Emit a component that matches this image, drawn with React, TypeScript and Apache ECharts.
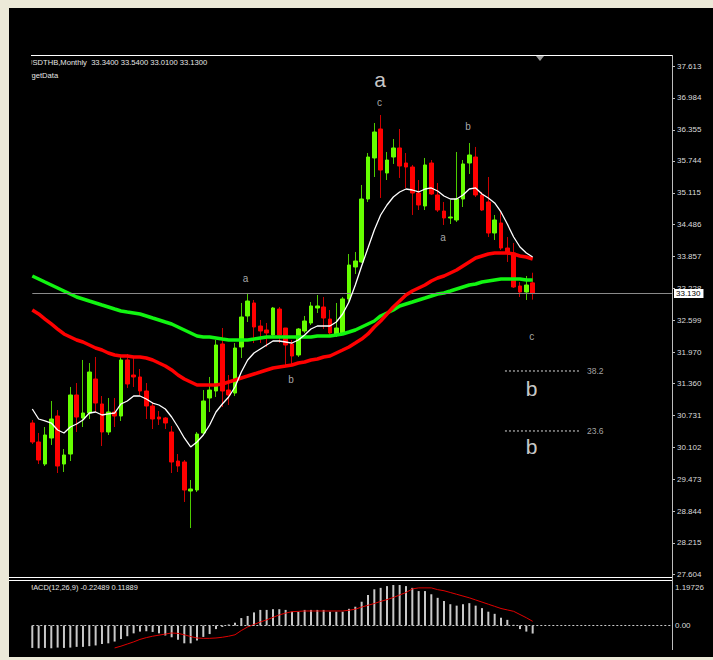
import React, { useEffect, useRef } from 'react';
import * as echarts from 'echarts';

// ---- data (USDTHB monthly) ----
const symbolName = 'USDTHB,Monthly';
const indicatorName = 'TargetData';
const slotCount = 102; // 80 bars + right-side chart shift
const slots = Array.from({ length: slotCount }, (_, i) => String(i + 1));

const opens = [
  30.579, 30.205, 29.771, 30.284, 30.717, 29.771, 29.968, 31.131, 30.678, 30.776,
  31.446, 30.954, 30.402, 30.796, 30.717, 31.821, 31.525, 31.486, 31.210, 30.914,
  30.697, 30.678, 30.402, 29.830, 29.811, 29.239, 29.259, 30.382, 31.072, 31.210,
  32.136, 31.229, 31.170, 32.077, 32.688, 32.944, 32.490, 32.412, 32.313, 32.825,
  32.451, 32.136, 31.919, 32.392, 32.550, 32.845, 32.865, 32.628, 32.313, 32.353,
  33.023, 33.653, 33.752, 34.993, 35.801, 36.372, 35.505, 35.820, 35.998, 35.702,
  35.623, 35.111, 34.855, 35.702, 35.072, 34.756, 34.619, 34.579, 34.993, 35.702,
  35.820, 35.072, 34.934, 34.323, 34.520, 34.027, 33.929, 33.279, 33.160, 33.34,
];
const closes = [
  30.205, 29.850, 30.343, 30.658, 29.732, 29.949, 31.131, 30.697, 30.776, 31.584,
  30.973, 30.402, 30.796, 30.717, 31.821, 31.348, 31.486, 31.210, 30.914, 30.658,
  30.658, 30.579, 29.811, 29.732, 29.259, 29.279, 30.362, 31.013, 31.229, 32.116,
  31.210, 31.131, 32.057, 32.668, 32.983, 32.471, 32.392, 32.353, 32.845, 32.313,
  32.116, 31.899, 32.431, 32.589, 32.885, 32.885, 32.648, 32.353, 32.451, 33.023,
  33.692, 33.771, 34.993, 35.820, 36.313, 35.564, 35.761, 35.998, 35.643, 35.623,
  35.111, 34.875, 35.663, 35.091, 34.776, 34.619, 34.638, 34.993, 35.683, 35.860,
  35.072, 34.776, 34.323, 34.579, 34.027, 33.929, 33.259, 33.160, 33.298, 33.13,
];
const lows = [
  30.165, 29.771, 29.732, 30.146, 29.594, 29.614, 29.830, 30.402, 30.500, 30.658,
  30.796, 30.126, 30.343, 30.500, 30.619, 31.269, 31.289, 31.131, 30.658, 30.461,
  30.540, 30.461, 29.594, 29.614, 29.023, 28.510, 29.220, 30.343, 30.796, 31.092,
  30.894, 30.934, 31.111, 31.860, 32.569, 32.155, 32.155, 32.077, 32.274, 32.155,
  31.722, 31.722, 31.880, 32.353, 32.510, 32.747, 32.431, 32.313, 32.274, 32.313,
  32.944, 33.515, 33.732, 34.934, 35.426, 35.013, 35.367, 35.683, 35.407, 35.210,
  34.678, 34.776, 34.776, 35.072, 34.737, 34.481, 34.500, 34.540, 34.835, 35.486,
  35.032, 34.756, 34.244, 34.185, 33.988, 33.752, 33.239, 33.062, 33.003, 33.01,
];
const highs = [
  30.638, 30.382, 30.500, 31.013, 30.835, 30.067, 31.289, 31.367, 31.821, 31.761,
  31.880, 31.111, 31.072, 31.072, 31.880, 31.939, 31.880, 31.643, 31.367, 30.993,
  30.816, 30.697, 30.520, 29.968, 29.850, 29.456, 30.402, 31.229, 31.486, 32.215,
  32.451, 31.525, 32.155, 32.944, 33.141, 33.003, 32.609, 32.550, 32.865, 32.865,
  32.451, 32.215, 32.451, 32.688, 32.963, 33.101, 33.062, 32.806, 32.944, 33.062,
  33.909, 33.949, 35.269, 35.899, 36.490, 36.648, 35.919, 36.175, 36.372, 35.899,
  35.663, 35.367, 35.801, 35.761, 35.308, 34.934, 34.973, 35.919, 35.761, 36.096,
  36.018, 35.131, 35.426, 34.678, 34.737, 34.244, 34.126, 33.357, 33.476, 33.54,
];
const maFast = [
  30.855, 30.658, 30.619, 30.579, 30.441, 30.382, 30.500, 30.560, 30.638, 30.776,
  30.796, 30.737, 30.757, 30.776, 30.954, 31.013, 31.111, 31.111, 31.052, 30.973,
  30.934, 30.855, 30.697, 30.500, 30.284, 30.107, 30.205, 30.343, 30.540, 30.796,
  30.954, 31.092, 31.289, 31.584, 31.821, 31.958, 32.037, 32.116, 32.195, 32.195,
  32.175, 32.155, 32.215, 32.313, 32.431, 32.490, 32.490, 32.490, 32.569, 32.727,
  32.963, 33.298, 33.673, 34.027, 34.382, 34.678, 34.875, 35.032, 35.131, 35.190,
  35.170, 35.131, 35.190, 35.210, 35.150, 35.052, 34.993, 34.993, 35.072, 35.190,
  35.210, 35.091, 35.013, 34.914, 34.737, 34.500, 34.244, 34.047, 33.929, 33.850,
];
const maMid = [
  32.806, 32.727, 32.628, 32.530, 32.431, 32.333, 32.274, 32.215, 32.175, 32.116,
  32.057, 32.017, 31.958, 31.919, 31.899, 31.899, 31.880, 31.880, 31.860, 31.821,
  31.761, 31.702, 31.624, 31.525, 31.446, 31.387, 31.328, 31.328, 31.328, 31.328,
  31.348, 31.387, 31.426, 31.466, 31.505, 31.545, 31.584, 31.624, 31.663, 31.683,
  31.702, 31.722, 31.761, 31.781, 31.821, 31.840, 31.880, 31.899, 31.958, 32.017,
  32.077, 32.155, 32.234, 32.333, 32.471, 32.589, 32.727, 32.865, 32.983, 33.101,
  33.180, 33.239, 33.298, 33.377, 33.436, 33.476, 33.535, 33.594, 33.673, 33.752,
  33.830, 33.870, 33.909, 33.929, 33.929, 33.929, 33.909, 33.870, 33.850, 33.811,
];
const maSlow = [
  33.476, 33.417, 33.357, 33.298, 33.239, 33.180, 33.121, 33.062, 33.023, 32.983,
  32.944, 32.904, 32.865, 32.825, 32.786, 32.766, 32.747, 32.727, 32.688, 32.648,
  32.609, 32.569, 32.530, 32.471, 32.412, 32.353, 32.294, 32.274, 32.274, 32.254,
  32.234, 32.215, 32.215, 32.215, 32.215, 32.234, 32.254, 32.274, 32.274, 32.274,
  32.274, 32.274, 32.274, 32.274, 32.274, 32.294, 32.294, 32.294, 32.313, 32.333,
  32.372, 32.412, 32.471, 32.530, 32.589, 32.688, 32.747, 32.806, 32.885, 32.924,
  32.963, 33.003, 33.042, 33.082, 33.121, 33.141, 33.180, 33.220, 33.259, 33.298,
  33.318, 33.357, 33.377, 33.397, 33.417, 33.417, 33.417, 33.417, 33.397, 33.397,
];
const macdMain = [
  -0.63, -0.64, -0.63, -0.64, -0.62, -0.63, -0.62, -0.60, -0.60, -0.58,
  -0.56, -0.52, -0.50, -0.45, -0.38, -0.30, -0.22, -0.17, -0.16, -0.18,
  -0.22, -0.28, -0.33, -0.40, -0.50, -0.50, -0.42, -0.32, -0.24, -0.10,
  -0.04, 0.03, 0.08, 0.21, 0.27, 0.37, 0.44, 0.44, 0.46, 0.46,
  0.44, 0.39, 0.39, 0.44, 0.44, 0.44, 0.44, 0.39, 0.39, 0.39,
  0.47, 0.53, 0.67, 0.86, 1.02, 1.06, 1.11, 1.14, 1.14, 1.11,
  1.06, 0.97, 0.97, 0.88, 0.78, 0.69, 0.60, 0.56, 0.60, 0.63,
  0.56, 0.49, 0.39, 0.33, 0.22, 0.16, 0.02, -0.10, -0.17, -0.22489,
];
const macdSignal = [
  '-', '-', '-', '-', '-', '-', '-', '-', '-', '-',
  '-', '-', '-', -0.63, -0.58, -0.52, -0.46, -0.39, -0.34, -0.30,
  -0.27, -0.24, -0.21, -0.22, -0.26, -0.31, -0.35, -0.36, -0.36, -0.35,
  -0.33, -0.30, -0.26, -0.14, -0.04, 0.03, 0.10, 0.16, 0.23, 0.30,
  0.35, 0.39, 0.40, 0.41, 0.41, 0.41, 0.41, 0.41, 0.41, 0.41,
  0.43, 0.46, 0.52, 0.57, 0.62, 0.68, 0.73, 0.79, 0.86, 0.93,
  1.03, 1.06, 1.06, 1.06, 1.01, 0.98, 0.93, 0.88, 0.83, 0.78,
  0.72, 0.66, 0.60, 0.54, 0.48, 0.44, 0.40, 0.31, 0.22, 0.11889,
];
const priceTicks = [
  37.613, 36.984, 36.355, 35.744, 35.115, 34.486, 33.857, 33.228, 32.599,
  31.970, 31.360, 30.731, 30.102, 29.473, 28.844, 28.215, 27.604,
];
const priceMin = 27.545;
const priceMax = 37.83;
const macdTicks = [1.19726, 0];
const macdMin = -0.66;
const bid = 33.13;

// Elliott-wave marks: bar position (fractional slot), price, degree
const waveMarks = [
  { text: 'a', slot: 54.9, price: 37.338, degree: 'major' },
  { text: 'c', slot: 54.82, price: 36.885, degree: 'minor' },
  { text: 'b', slot: 68.79, price: 36.412, degree: 'minor' },
  { text: 'a', slot: 33.66, price: 33.417, degree: 'minor' },
  { text: 'b', slot: 40.84, price: 31.446, degree: 'minor' },
  { text: 'a', slot: 64.84, price: 34.244, degree: 'minor' },
  { text: 'c', slot: 78.85, price: 32.274, degree: 'minor' },
  { text: 'b', slot: 78.85, price: 31.263, degree: 'major' },
  { text: 'b', slot: 78.85, price: 30.112, degree: 'major' },
];
// Fibonacci levels drawn as short dotted lines
const fibLevels = [
  { level: '38.2', price: 31.604, fromSlot: 74.63, toSlot: 86.47 },
  { level: '23.6', price: 30.422, fromSlot: 74.63, toSlot: 86.47 },
];

const FONT = 'Liberation Sans, Arial, sans-serif';
const UP = '#66ff00';
const DN = '#ff0000';
const WICK_UP = '#4ccc00';
const WICK_DN = '#cc0000';

export default function App() {
  const ref = useRef<HTMLDivElement>(null);

  useEffect(() => {
    if (!ref.current) return;
    const chart = echarts.init(ref.current, null, { renderer: 'svg' });

    const candles = opens.map((o, i) => [o, closes[i], lows[i], highs[i]]);
    const bodies = opens.map((o, i) => [o, closes[i], Math.min(o, closes[i]), Math.max(o, closes[i])]);
    const last = opens.length - 1;
    const header = `${symbolName}  ${opens[last].toFixed(4)} ${highs[last].toFixed(4)} ${lows[last].toFixed(4)} ${closes[last].toFixed(4)}`;
    const macdHeader = `MACD(12,26,9) ${(macdMain[last] as number).toFixed(5)} ${(macdSignal[last] as number).toFixed(5)}`;

    const markData: any[] = waveMarks.map((m) => ({
      name: m.text,
      value: [m.slot, m.price],
      label: m.degree === 'major'
        ? { fontSize: 21, color: '#ffffff' }
        : { fontSize: 10, color: '#d4d4d4' },
    }));
    fibLevels.forEach((f) => {
      markData.push({
        name: f.level,
        value: [f.toSlot + 1.1, f.price],
        label: { fontSize: 8.5, color: '#cfcfcf', align: 'left' },
      });
    });

    const gridL = 23.3;
    const gridR = 41;

    const option: any = {
      animation: false,
      backgroundColor: '#000000',
      grid: [
        { left: gridL, right: gridR, top: 47, height: 522 },
        { left: gridL, right: gridR, top: 575, height: 66 },
        { left: gridL, right: gridR, top: 47, height: 522 },
      ],
      xAxis: [
        { type: 'category', gridIndex: 0, data: slots, boundaryGap: false, show: false },
        { type: 'category', gridIndex: 1, data: slots, boundaryGap: false, show: false },
        { type: 'value', gridIndex: 2, min: 0, max: slotCount - 1, show: false },
      ],
      yAxis: [
        {
          type: 'value', gridIndex: 0, min: priceMin, max: priceMax, position: 'right',
          splitLine: { show: false }, axisLine: { show: false },
          axisTick: { show: true, customValues: priceTicks, length: 3, lineStyle: { color: '#bdbdbd' } },
          axisLabel: {
            customValues: priceTicks, formatter: (v: number) => v.toFixed(3),
            color: '#dcdcdc', fontSize: 8, fontFamily: FONT, margin: 5,
          },
        },
        {
          type: 'value', gridIndex: 1, min: macdMin, max: macdTicks[0], position: 'right',
          splitLine: { show: false }, axisLine: { show: false }, axisTick: { show: false },
          axisLabel: {
            customValues: macdTicks, margin: 3,
            formatter: (v: number) => (v === 0 ? '{z|0.00}' : '{t|' + v.toFixed(5) + '}'),
            rich: {
              z: { color: '#dcdcdc', fontSize: 8, fontFamily: FONT },
              t: { color: '#dcdcdc', fontSize: 8, fontFamily: FONT, padding: [8, 0, 0, 0] },
            },
          },
        },
        { type: 'value', gridIndex: 2, min: priceMin, max: priceMax, show: false },
      ],
      series: [
        {
          type: 'candlestick', name: 'wicks', xAxisIndex: 0, yAxisIndex: 0, data: candles,
          barWidth: 1, z: 2,
          itemStyle: { color: WICK_UP, color0: WICK_DN, borderColor: WICK_UP, borderColor0: WICK_DN, borderWidth: 1 },
        },
        {
          type: 'candlestick', name: 'USDTHB', xAxisIndex: 0, yAxisIndex: 0, data: bodies,
          barWidth: 4, z: 3,
          itemStyle: { color: UP, color0: DN, borderColor: UP, borderColor0: DN, borderWidth: 1 },
          markLine: {
            silent: true, symbol: ['none', 'none'], animation: false,
            lineStyle: { color: '#8a8a8a', width: 1, type: 'solid' },
            label: {
              show: true, position: 'end', formatter: () => bid.toFixed(3), distance: 2,
              color: '#000000', backgroundColor: '#ffffff', padding: [1, 3, 0, 2],
              fontSize: 8, fontFamily: FONT,
            },
            data: [{ yAxis: bid }],
          },
        },
        {
          type: 'line', name: 'MA slow', xAxisIndex: 0, yAxisIndex: 0, data: maSlow,
          symbol: 'none', z: 4, lineStyle: { color: '#11f511', width: 3.5 },
        },
        {
          type: 'line', name: 'MA mid', xAxisIndex: 0, yAxisIndex: 0, data: maMid,
          symbol: 'none', z: 5, lineStyle: { color: '#ff0000', width: 3.5 },
        },
        {
          type: 'line', name: 'MA fast', xAxisIndex: 0, yAxisIndex: 0, data: maFast,
          symbol: 'none', z: 6, lineStyle: { color: '#ffffff', width: 1.3 },
        },
        {
          type: 'bar', name: 'MACD', xAxisIndex: 1, yAxisIndex: 1, data: macdMain,
          barWidth: 2, itemStyle: { color: '#c8c8c8' },
          markLine: {
            silent: true, symbol: ['none', 'none'], animation: false, label: { show: false },
            lineStyle: { color: '#c8c8c8', width: 1, type: [2, 2] },
            data: [{ yAxis: 0 }],
          },
        },
        {
          type: 'line', name: 'Signal', xAxisIndex: 1, yAxisIndex: 1, data: macdSignal,
          symbol: 'none', lineStyle: { color: '#e00000', width: 1 },
        },
        ...fibLevels.map((f) => ({
          type: 'line', name: 'Fibo ' + f.level, xAxisIndex: 2, yAxisIndex: 2,
          data: [[f.fromSlot, f.price], [f.toSlot, f.price]],
          symbol: 'none', lineStyle: { color: '#d8d8d8', width: 1, type: [2, 2] },
        })),
        {
          type: 'scatter', name: 'marks', xAxisIndex: 2, yAxisIndex: 2, data: markData,
          symbolSize: 1, itemStyle: { color: 'rgba(0,0,0,0)' }, z: 10,
          label: { show: true, position: 'inside', formatter: (p: any) => p.name, fontFamily: FONT },
        },
      ],
      graphic: [
        { type: 'text', z: 100, x: 18, y: 54, style: { text: header, fill: '#e6e6e6', font: `7.6px ${FONT}`, verticalAlign: 'middle' } },
        { type: 'text', z: 100, x: 12, y: 67, style: { text: indicatorName, fill: '#e6e6e6', font: `7.6px ${FONT}`, verticalAlign: 'middle' } },
        { type: 'text', z: 100, x: 18, y: 579.5, style: { text: macdHeader, fill: '#e6e6e6', font: `7.4px ${FONT}`, verticalAlign: 'middle' } },
        { type: 'rect', z: 101, shape: { x: 0, y: 46, width: 22.5, height: 30 }, style: { fill: '#000000' } },
        { type: 'rect', z: 101, shape: { x: 0, y: 573.5, width: 22.5, height: 12 }, style: { fill: '#000000' } },
        { type: 'line', z: 102, shape: { x1: 22, y1: 47.5, x2: 663, y2: 47.5 }, style: { stroke: '#ffffff', lineWidth: 1 } },
        { type: 'line', z: 102, shape: { x1: 0, y1: 569.5, x2: 663, y2: 569.5 }, style: { stroke: '#ffffff', lineWidth: 1 } },
        { type: 'line', z: 102, shape: { x1: 0, y1: 572.5, x2: 663, y2: 572.5 }, style: { stroke: '#ffffff', lineWidth: 1 } },
        { type: 'line', z: 102, shape: { x1: 663.5, y1: 47, x2: 663.5, y2: 642 }, style: { stroke: '#bdbdbd', lineWidth: 1 } },
        { type: 'polygon', z: 102, shape: { points: [[527, 48], [535, 48], [531, 53]] }, style: { fill: '#9a9a9a' } },
      ],
    };

    chart.setOption(option);
    return () => chart.dispose();
  }, []);

  return (
    <div style={{ position: 'fixed', left: 0, top: 0, width: 713, height: 660, background: '#ece9d8', overflow: 'hidden' }}>
      <div ref={ref} style={{ position: 'absolute', left: 9, top: 8, width: 704, height: 649, background: '#000000' }} />
    </div>
  );
}
